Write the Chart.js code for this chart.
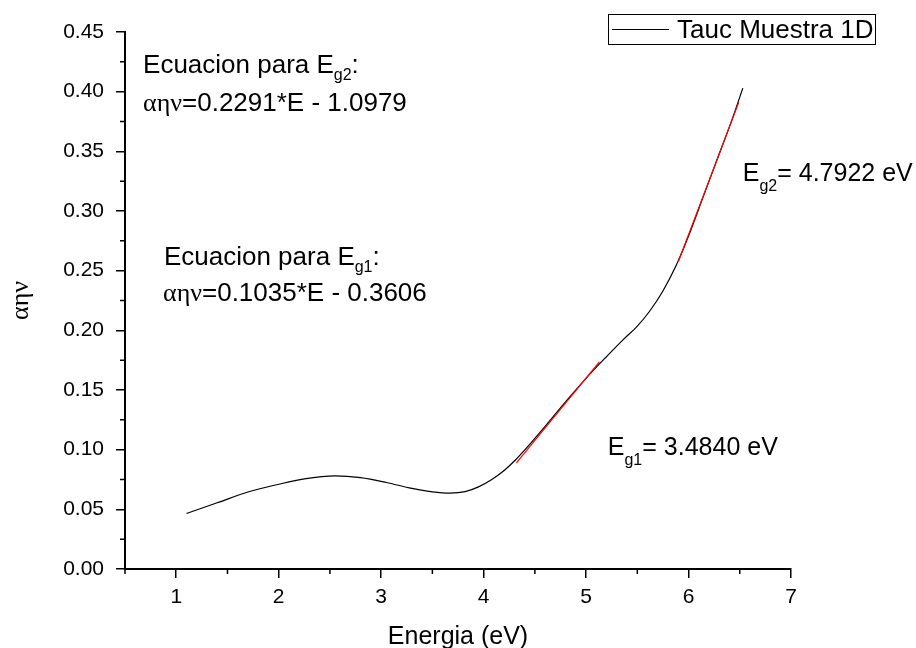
<!DOCTYPE html>
<html>
<head>
<meta charset="utf-8">
<script src="https://cdn.jsdelivr.net/npm/chart.js@4.4.0/dist/chart.umd.min.js"></script>
<style>
html, body { margin: 0; padding: 0; background: #fff; }
#wrap { width: 916px; height: 648px; }
</style>
</head>
<body>
<div id="wrap"><canvas id="tauc" width="916" height="648"></canvas></div>
<script>
// Tauc curve, muestra 1D
const energia = [1.10, 1.40, 1.70, 2.00, 2.25, 2.55, 2.80, 3.05, 3.30, 3.50, 3.67, 3.82, 3.95, 4.08, 4.20,
                 4.30, 4.45, 4.60, 4.75, 4.90, 5.05, 5.20, 5.36, 5.50, 5.62, 5.75, 5.88, 6.00, 6.15, 6.30, 6.42, 6.53];
const alfa = [0.0465, 0.0555, 0.0645, 0.0710, 0.0755, 0.0780, 0.0765, 0.0725, 0.0675, 0.0647, 0.0636, 0.0648, 0.0688, 0.0750, 0.0825,
              0.0905, 0.1045, 0.1195, 0.1350, 0.1500, 0.1645, 0.1780, 0.1920, 0.2035, 0.2160, 0.2330, 0.2545, 0.2790, 0.3135, 0.3480, 0.3755, 0.4030];

// linear fits (red segments)
const fit1E = [4.32, 5.13];
const fit1Y = [0.089, 0.1735];
const fit2E = [5.90, 6.49];
const fit2Y = [0.2575, 0.391];

const xTicks = [1, 2, 3, 4, 5, 6, 7];
const yTicks = [0, 0.05, 0.10, 0.15, 0.20, 0.25, 0.30, 0.35, 0.40, 0.45];
const xMinor = [0.5, 1.5, 2.5, 3.5, 4.5, 5.5, 6.5];
const yMinor = [0.025, 0.075, 0.125, 0.175, 0.225, 0.275, 0.325, 0.375, 0.425];

const serieLabel = 'Tauc Muestra 1D';

const SANS = '"Liberation Sans", Arial, sans-serif';
const SERIF = '"Liberation Serif", "Times New Roman", serif';

function pts(xs, ys) {
    return xs.map((x, i) => ({ x: x, y: ys[i] }));
}

// draw a run of text pieces (for subscripts / mixed fonts)
function drawParts(ctx, x, y, parts) {
    let cx = x;
    parts.forEach(p => {
        ctx.font = p.f;
        ctx.fillText(p.t, cx, y + (p.dy || 0));
        cx += ctx.measureText(p.t).width;
    });
}

const extras = {
    id: 'extras',
    afterDraw(chart) {
        const ctx = chart.ctx;
        const xs = chart.scales.x, ys = chart.scales.y;
        const area = chart.chartArea;
        ctx.save();

        // minor ticks
        ctx.strokeStyle = '#000';
        ctx.lineWidth = 1.5;
        ctx.beginPath();
        xMinor.forEach(v => {
            const px = xs.getPixelForValue(v);
            ctx.moveTo(px, area.bottom);
            ctx.lineTo(px, area.bottom + 5);
        });
        yMinor.forEach(v => {
            const py = ys.getPixelForValue(v);
            ctx.moveTo(area.left, py);
            ctx.lineTo(area.left - 5, py);
        });
        ctx.stroke();

        // legend box
        ctx.lineWidth = 1;
        ctx.strokeRect(608.5, 14.5, 267, 30);
        ctx.beginPath();
        ctx.moveTo(612, 29.5);
        ctx.lineTo(669, 29.5);
        ctx.stroke();
        ctx.fillStyle = '#000';
        ctx.textBaseline = 'alphabetic';
        ctx.font = '26px ' + SANS;
        ctx.fillText(serieLabel, 677, 38);

        const big = '26px ' + SANS;
        const mid = '25px ' + SANS;
        const sub = '16px ' + SANS;
        const greek = '26px ' + SERIF;

        // equation for Eg2
        drawParts(ctx, xs.getPixelForValue(0.676), ys.getPixelForValue(0.4157), [
            { t: 'Ecuacion para E', f: big }, { t: 'g2', f: sub, dy: 7 }, { t: ':', f: big }
        ]);
        drawParts(ctx, xs.getPixelForValue(0.676), ys.getPixelForValue(0.3838), [
            { t: 'αην', f: greek }, { t: '=0.2291*E - 1.0979', f: big }
        ]);

        // equation for Eg1
        drawParts(ctx, xs.getPixelForValue(0.880), ys.getPixelForValue(0.2548), [
            { t: 'Ecuacion para E', f: big }, { t: 'g1', f: sub, dy: 7 }, { t: ':', f: big }
        ]);
        drawParts(ctx, xs.getPixelForValue(0.871), ys.getPixelForValue(0.2246), [
            { t: 'αην', f: greek }, { t: '=0.1035*E - 0.3606', f: big }
        ]);

        // band gaps
        drawParts(ctx, xs.getPixelForValue(6.529), ys.getPixelForValue(0.3251), [
            { t: 'E', f: mid }, { t: 'g2', f: sub, dy: 10 }, { t: '= 4.7922 eV', f: mid }
        ]);
        drawParts(ctx, xs.getPixelForValue(5.212), ys.getPixelForValue(0.0955), [
            { t: 'E', f: mid }, { t: 'g1', f: sub, dy: 10 }, { t: '= 3.4840 eV', f: mid }
        ]);

        ctx.restore();
    }
};

const ctx = document.getElementById('tauc').getContext('2d');
new Chart(ctx, {
    type: 'scatter',
    data: {
        datasets: [{
            label: serieLabel,
            data: pts(energia, alfa),
            showLine: true,
            borderColor: '#000',
            borderWidth: 1.2,
            pointRadius: 0,
            cubicInterpolationMode: 'monotone',
            order: 2
        }, {
            label: 'fit Eg1',
            data: pts(fit1E, fit1Y),
            showLine: true,
            borderColor: '#ff0000',
            borderWidth: 1.2,
            pointRadius: 0,
            order: 1
        }, {
            label: 'fit Eg2',
            data: pts(fit2E, fit2Y),
            showLine: true,
            borderColor: '#ff0000',
            borderWidth: 1.2,
            pointRadius: 0,
            order: 1
        }]
    },
    options: {
        responsive: false,
        animation: false,
        devicePixelRatio: 1,
        layout: { padding: { top: 32, right: 125, left: 0, bottom: 0 } },
        plugins: {
            legend: { display: false },
            tooltip: { enabled: false }
        },
        scales: {
            x: {
                type: 'linear',
                min: 0.5,
                max: 7,
                afterFit: s => { s.height = 79; },
                afterBuildTicks: s => { s.ticks = xTicks.map(v => ({ value: v })); },
                border: { display: true, color: '#000', width: 2 },
                grid: { display: true, drawOnChartArea: false, drawTicks: true, tickLength: 9, color: '#000', lineWidth: 1.5 },
                ticks: {
                    color: '#000',
                    font: { family: SANS, size: 21 },
                    padding: 7,
                    maxRotation: 0,
                    callback: v => String(v)
                },
                title: {
                    display: true,
                    text: 'Energia (eV)',
                    color: '#000',
                    font: { family: SANS, size: 25, lineHeight: 0.9 },
                    padding: { top: 0, bottom: 0 }
                }
            },
            y: {
                type: 'linear',
                min: 0,
                max: 0.45,
                afterFit: s => { s.width = 125; },
                afterBuildTicks: s => { s.ticks = yTicks.map(v => ({ value: v })); },
                border: { display: true, color: '#000', width: 2 },
                grid: { display: true, drawOnChartArea: false, drawTicks: true, tickLength: 9, color: '#000', lineWidth: 1.5 },
                ticks: {
                    color: '#000',
                    font: { family: SANS, size: 21 },
                    padding: 12,
                    callback: v => v.toFixed(2)
                },
                title: {
                    display: true,
                    text: 'αην',
                    color: '#000',
                    font: { family: SERIF, size: 26, lineHeight: 1 },
                    padding: { top: 8, bottom: 0 }
                }
            }
        }
    },
    plugins: [extras]
});
</script>
</body>
</html>
